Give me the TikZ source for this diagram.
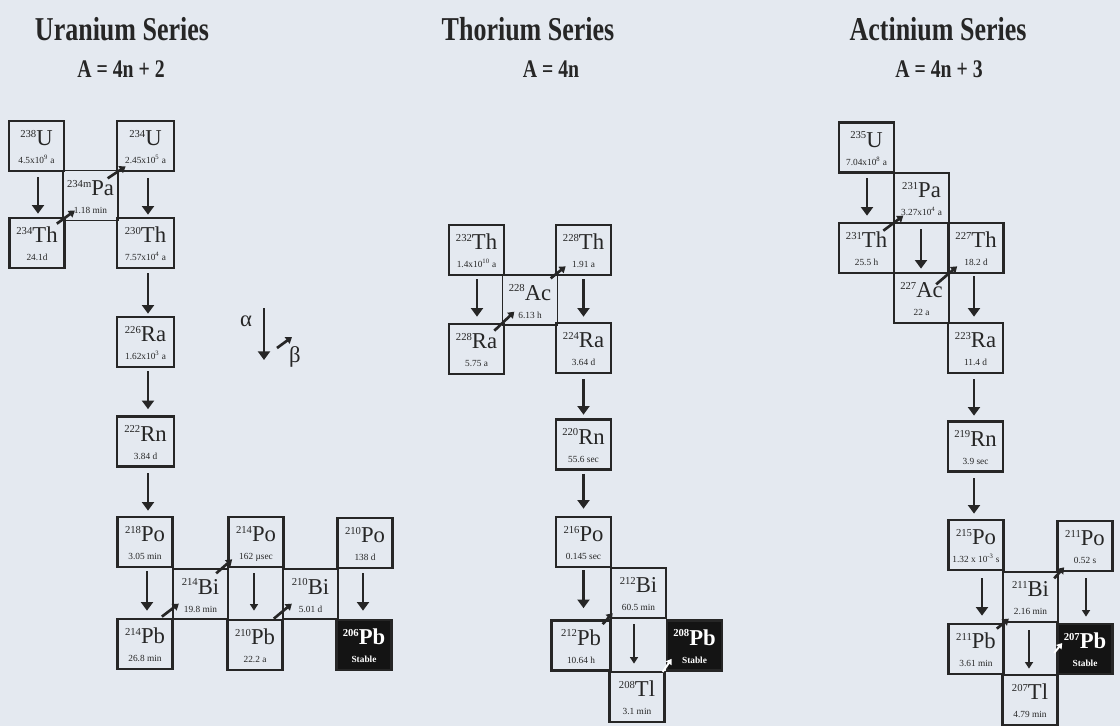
\documentclass[tikz,border=0pt]{standalone}
\usepackage{fontspec}
\setmainfont{Liberation Serif}
\newfontfamily\titlefont[FakeStretch=0.78]{Liberation Serif}
\usetikzlibrary{arrows.meta,calc}
\definecolor{bg}{RGB}{228,233,240}
\definecolor{ink}{RGB}{38,38,38}
\newcommand\massn[1]{\raisebox{6.5pt}{\fontsize{8}{8}\selectfont #1}}
\NewDocumentCommand\isob{O{} O{} m m m m m m}{%
  \node[box,#1] (#3) at (#4,#5) {};
  \node[symt,#2] (#3-s) at ($(#3.north)+(0,26)$) {\massn{#6}#7};
  \node[hlt,#2] (#3-h) at ($(#3.north)+(0,44)$) {#8};}
\NewDocumentCommand\alp{O{} m m m m m}{%
  \draw[al,#1] ($(#2.south)+(#4,#5)$) -- ($(#2.south |- #3.north)+(#4,-#6)$);}
\NewDocumentCommand\bet{O{} m m m m m}{%
  \draw[bt,#1] ($(#2)+(#3,#4)$) -- ($(#2)+(#5,#6)$);}
\begin{document}
\begin{tikzpicture}[x=0.75pt,y=-0.75pt,
  box/.style={draw=ink, line width=2pt, minimum width=41.25pt, minimum height=37.5pt, inner sep=0pt},
  wide/.style={minimum width=42.75pt},
  thin/.style={line width=1pt},
  blk/.style={fill=black!92},
  wt/.style={text=white, execute at begin node=\bfseries},
  symt/.style={anchor=base, inner sep=0pt, text=ink, font=\fontsize{17}{17}\selectfont},
  hlt/.style={anchor=base, inner sep=0pt, text=ink, font=\fontsize{7}{7}\selectfont},
  ttl/.style={anchor=base, inner sep=0pt, text=ink, font=\titlefont\bfseries\fontsize{25}{25}\selectfont},
  frm/.style={anchor=base, inner sep=0pt, text=ink, font=\titlefont\bfseries\fontsize{19}{19}\selectfont},
  grk/.style={inner sep=0pt, text=ink, font=\fontsize{17}{17}\selectfont},
  al/.style={draw=ink, line width=2.2pt, -{Triangle[width=9pt,length=6.5pt]}},
  alt/.style={line width=1.2pt, -{Triangle[width=6pt,length=5pt]}},
  bt/.style={draw=ink, line width=2pt, -{Triangle[width=6pt,length=4.5pt]}},
  btw/.style={draw=white, line width=1.5pt, -{Triangle[width=5pt,length=4pt]}}
]
\fill[bg] (0,0) rectangle (1120,726);
\useasboundingbox (0,0) rectangle (1120,726);

% titles
\node[ttl] (t1) at (122,40) {Uranium Series};
\node[frm] (f1) at (121,77) {A = 4n + 2};
\node[ttl] (t2) at (528,40) {Thorium Series};
\node[frm] (f2) at (551,77) {A = 4n};
\node[ttl] (t3) at (938,40) {Actinium Series};
\node[frm] (f3) at (939,77) {A = 4n + 3};

% Uranium series
\isob{U238}{36.5}{146}{238}{U}{4.5x10\textsuperscript{9} a}
\isob[wide]{U234}{145.5}{146}{234}{U}{2.45x10\textsuperscript{5} a}
\isob[thin]{Pa234}{90.5}{195.5}{234m}{Pa}{1.18 min}
\isob{Th234}{37}{243}{234}{Th}{24.1d}
\isob[wide]{Th230}{145.5}{243}{230}{Th}{7.57x10\textsuperscript{4} a}
\isob[wide]{Ra226}{145.5}{342}{226}{Ra}{1.62x10\textsuperscript{3} a}
\isob[wide]{Rn222}{145.5}{441.5}{222}{Rn}{3.84 d}
\isob{Po218}{145}{542}{218}{Po}{3.05 min}
\isob[thin]{Bi214}{200.5}{594}{214}{Bi}{19.8 min}
\isob{Po214}{256}{542}{214}{Po}{162 µsec}
\isob[thin]{Bi210}{310.5}{594}{210}{Bi}{5.01 d}
\isob{Po210}{365}{543}{210}{Po}{138 d}
\isob{Pb214}{145}{644}{214}{Pb}{26.8 min}
\isob{Pb210}{255}{645}{210}{Pb}{22.2 a}
\isob[blk][wt]{Pb206}{364}{645}{206}{Pb}{Stable}

\alp{U238}{Th234}{1.5}{5}{3}
\alp{U234}{Th230}{2.5}{6}{2}
\alp{Th230}{Ra226}{2.5}{4}{2}
\alp{Ra226}{Rn222}{2.5}{3}{6}
\alp{Rn222}{Po218}{2.5}{5.5}{5}
\alp{Po218}{Pb214}{2}{3}{7}
\alp[alt]{Po214}{Pb210}{-2}{5}{8}
\alp{Po210}{Pb206}{-2}{4}{8}
\bet{Th234.north east}{-9}{7}{9}{-6}
\bet{U234.south west}{-8}{6}{10}{-6}
\bet{Pb214.north east}{-12}{-1}{5}{-14}
\bet{Po214.south west}{-11}{5}{5}{-9}
\bet{Pb210.north east}{-10}{0}{8}{-15}

% legend
\node[grk] (alpha) at (246,321) {α};
\node[grk] (beta) at (295,357) {β};
\coordinate (la1) at (264,308);
\coordinate (la2) at (264,360);
\coordinate (lb1) at (277,348);
\coordinate (lb2) at (292,337);
\draw[al] (la1) -- (la2);
\draw[bt] (lb1) -- (lb2);

% Thorium series
\isob{Th232}{476.5}{250}{232}{Th}{1.4x10\textsuperscript{10} a}
\isob{Th228}{583.5}{250}{228}{Th}{1.91 a}
\isob[thin]{Ac228}{530}{300}{228}{Ac}{6.13 h}
\isob{Ra228}{476.5}{349}{228}{Ra}{5.75 a}
\isob{Ra224}{583.5}{348}{224}{Ra}{3.64 d}
\isob{Rn220}{583.5}{444.5}{220}{Rn}{55.6 sec}
\isob{Po216}{583.5}{542}{216}{Po}{0.145 sec}
\isob{Bi212}{638.5}{593}{212}{Bi}{60.5 min}
\isob[minimum width=44pt]{Pb212}{581}{645.5}{212}{Pb}{10.64 h}
\isob[blk][wt]{Pb208}{694.5}{645.5}{208}{Pb}{Stable}
\isob{Tl208}{637}{697}{208}{Tl}{3.1 min}

\alp{Th232}{Ra228}{0.5}{3}{6}
\alp{Th228}{Ra224}{0}{3}{5}
\alp{Ra224}{Rn220}{0}{5}{3.5}
\alp{Rn220}{Po216}{0}{3}{7}
\alp{Po216}{Pb212}{0}{2}{11}
\alp[alt]{Bi212}{Tl208}{-4.5}{5}{7}
\bet{Ra228.north east}{-11}{8}{9}{-11}
\bet{Th228.south west}{-4}{2}{11}{-10}
\bet{Pb212.north east}{-9}{5}{1}{-6}
\bet[btw]{Pb208.south west}{-3}{0}{6}{-13}

% Actinium series
\isob{U235}{866.5}{147.5}{235}{U}{7.04x10\textsuperscript{8} a}
\isob{Pa231}{921.5}{198}{231}{Pa}{3.27x10\textsuperscript{4} a}
\isob{Th231}{866.5}{248}{231}{Th}{25.5 h}
\isob{Th227}{976}{248}{227}{Th}{18.2 d}
\isob{Ac227}{921.5}{298}{227}{Ac}{22 a}
\isob{Ra223}{975.5}{348}{223}{Ra}{11.4 d}
\isob{Rn219}{975.5}{446.5}{219}{Rn}{3.9 sec}
\isob{Po215}{976}{545}{215}{Po}{1.32 x 10\textsuperscript{-3} s}
\isob{Po211}{1085}{546}{211}{Po}{0.52 s}
\isob{Bi211}{1030.5}{597}{211}{Bi}{2.16 min}
\isob{Pb211}{976}{649}{211}{Pb}{3.61 min}
\isob[blk][wt]{Pb207}{1085}{649}{207}{Pb}{Stable}
\isob{Tl207}{1030}{700}{207}{Tl}{4.79 min}

\alp{U235}{Th231}{0.5}{4.5}{6}
\alp{Pa231}{Ac227}{-0.5}{5}{3}
\alp{Th227}{Ra223}{-2}{2}{5}
\alp{Ra223}{Rn219}{-1.5}{5}{4.5}
\alp{Rn219}{Po215}{-1.5}{5.5}{5}
\alp{Po215}{Pb211}{6}{7}{7}
\alp[alt]{Bi211}{Tl207}{-1.5}{7}{5}
\alp[alt]{Po211}{Pb207}{1}{6}{6}
\bet{Th231.north east}{-12}{9}{8}{-6}
\bet{Th227.south west}{-11}{10}{10}{-8}
\bet{Pb211.north east}{-8}{6}{4}{-4}
\bet{Po211.south west}{-2}{6}{8}{-5}
\bet[btw]{Pb207.west}{-2}{4}{6}{-6}
\end{tikzpicture}
\end{document}
